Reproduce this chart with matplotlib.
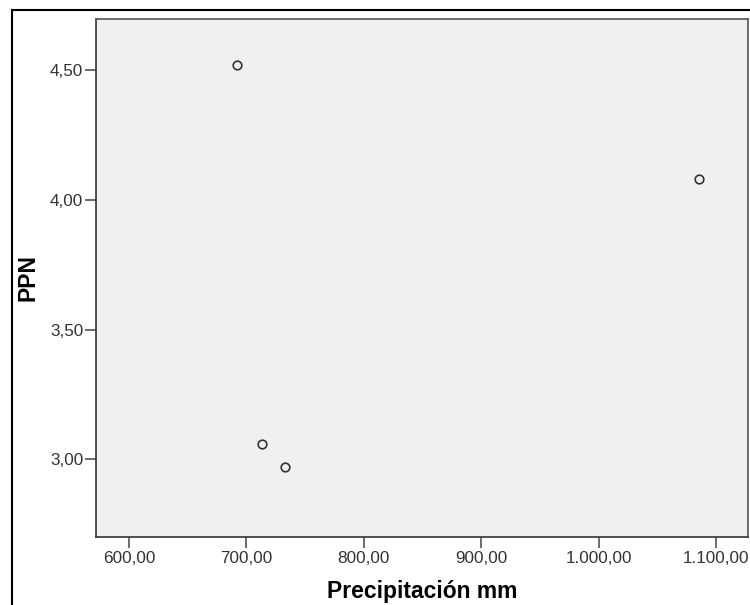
import matplotlib.pyplot as plt
from matplotlib.lines import Line2D
from matplotlib.ticker import FuncFormatter

# precipitation (mm) vs PPN
precip_mm = [691.9, 713.2, 732.8, 1085.4]
ppn = [4.52, 3.06, 2.97, 4.08]

x_ticks = [600, 700, 800, 900, 1000, 1100]
y_ticks = [3.0, 3.5, 4.0, 4.5]


def es_number(v, pos=None):
    # 1234.5 -> "1.234,50"
    s = f"{v:,.2f}"
    return s.replace(",", "X").replace(".", ",").replace("X", ".")


def main():
    plt.rcParams['font.family'] = ['Liberation Sans', 'DejaVu Sans']

    fig = plt.figure(figsize=(7.5, 6.05), dpi=100)
    ax = fig.add_axes([0.128, 0.1124, 0.8693, 0.857])
    ax.set_facecolor('#f0f0f0')

    ax.plot(precip_mm, ppn, linestyle='none', marker='o', markersize=6.2,
            markerfacecolor='none', markeredgecolor='#333333', markeredgewidth=1.2)

    ax.set_xlim(572, 1127)
    ax.set_ylim(2.70, 4.70)
    ax.set_xticks(x_ticks)
    ax.set_yticks(y_ticks)
    ax.xaxis.set_major_formatter(FuncFormatter(es_number))
    ax.yaxis.set_major_formatter(FuncFormatter(es_number))

    ax.tick_params(axis='both', direction='out', length=8.2, width=1.1,
                   color='#444444', labelcolor='#333333', labelsize=12.3)
    ax.tick_params(axis='x', pad=2)
    ax.tick_params(axis='y', pad=1)

    for side in ['left', 'bottom', 'top', 'right']:
        ax.spines[side].set_color('#555555')
        ax.spines[side].set_linewidth(1.2)
    ax.spines['left'].set_color('#333333')
    ax.spines['bottom'].set_color('#333333')

    ax.set_xlabel('Precipitación mm', fontsize=16.5, fontweight='bold', va='center')
    ax.xaxis.set_label_coords(0.5, -0.106)
    ax.set_ylabel('PPN', fontsize=16.5, fontweight='bold', va='center')
    ax.yaxis.set_label_coords(-0.104, 0.5)

    # outer chart frame (runs off the right and bottom edges)
    fx = 11.5 / 750
    fy = 1 - 9.5 / 605
    fig.add_artist(Line2D([fx, fx], [-0.1, fy], transform=fig.transFigure,
                          color='black', linewidth=1.5))
    fig.add_artist(Line2D([fx, 1.1], [fy, fy], transform=fig.transFigure,
                          color='black', linewidth=1.5))

    fig.savefig('out.png', dpi=100)


if __name__ == "__main__":
    main()
